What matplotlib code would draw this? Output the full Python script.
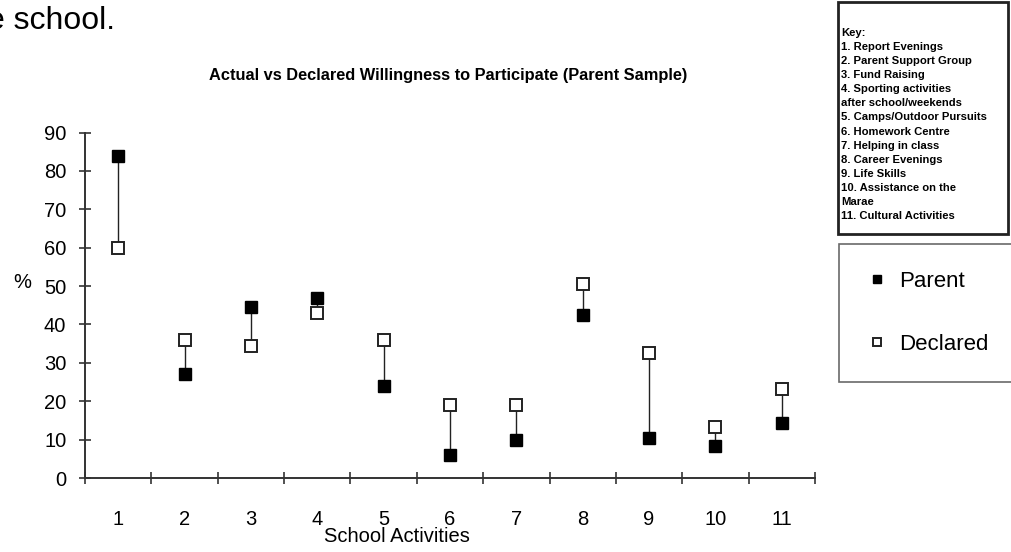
import matplotlib
matplotlib.use('Agg')
import matplotlib.pyplot as plt
from matplotlib.patches import Rectangle

plt.rcParams['font.family'] = ['Liberation Sans', 'DejaVu Sans']

activities = [1, 2, 3, 4, 5, 6, 7, 8, 9, 10, 11]
parent = [84, 27, 44.5, 47, 24, 6, 10, 42.5, 10.5, 8.3, 14.3]
declared = [60, 36, 34.5, 43, 36, 19, 19, 50.5, 32.5, 13.3, 23.2]
key_lines = [
    'Key:',
    '1. Report Evenings',
    '2. Parent Support Group',
    '3. Fund Raising',
    '4. Sporting activities',
    'after school/weekends',
    '5. Camps/Outdoor Pursuits',
    '6. Homework Centre',
    '7. Helping in class',
    '8. Career Evenings',
    '9. Life Skills',
    '10. Assistance on the',
    'Marae',
    '11. Cultural Activities',
]

W, H = 1011, 552
fig = plt.figure(figsize=(W / 100, H / 100), dpi=100)
ax = fig.add_axes([85 / W, 1 - 478 / H, 730 / W, (478 - 132.5) / H])

# connectors between actual and declared
ax.vlines(activities, parent, declared, color='#222222', lw=1.0, zorder=1)
hp, = ax.plot(activities, parent, 's', ms=8.5, mfc='black', mec='black',
              ls='none', zorder=3, label='Parent')
hd, = ax.plot(activities, declared, 's', ms=8.5, mfc='white', mec='#222222',
              mew=1.4, ls='none', zorder=3, label='Declared')

ax.set_xlim(0.5, 11.5)
ax.set_ylim(0, 90)
ax.set_yticks(range(0, 91, 10))
ax.set_xticks([i + 0.5 for i in range(0, 12)])
ax.set_xticklabels([])
ax.set_xticks(activities, minor=True)
ax.set_xticklabels([str(a) for a in activities], minor=True)
ax.tick_params(axis='x', which='major', direction='inout', length=9, width=1.2,
               color='#333333')
ax.tick_params(axis='x', which='minor', length=0, pad=23, labelsize=14.5)
ax.tick_params(axis='y', direction='inout', length=9, width=1.2,
               color='#333333', pad=9, labelsize=14.5)
for s in ['top', 'right']:
    ax.spines[s].set_visible(False)
for s in ['left', 'bottom']:
    ax.spines[s].set_linewidth(1.4)
    ax.spines[s].set_color('#333333')

ax.set_xlabel('School Activities', fontsize=14.5)
ax.xaxis.set_label_coords(0.427, -0.17)
ax.xaxis.label.set_va('center')
ax.set_ylabel('%', fontsize=14.5, rotation=0)
ax.yaxis.set_label_coords(-0.086, 0.566)
ax.yaxis.label.set_va('center')

fig.text(448 / W, 1 - 76 / H,
         'Actual vs Declared Willingness to Participate (Parent Sample)',
         ha='center', va='center', fontsize=11.8, fontweight='bold')
fig.text(115 / W, 1 - 21 / H, 'e school.', ha='right', va='center',
         fontsize=23)

# key box
fig.patches.append(Rectangle((838 / W, 1 - 234 / H), 170 / W, 232 / H,
                             transform=fig.transFigure, fill=False,
                             lw=2, ec='#222222'))
fig.text(841 / W, 1 - 28 / H, '\n'.join(key_lines), ha='left', va='top',
         fontsize=8.1, fontweight='bold', linespacing=1.51)

# legend
leg = fig.legend(handles=[hp, hd], loc='upper left',
                 bbox_to_anchor=(839 / W, 1 - 244 / H), fontsize=16,
                 frameon=True, fancybox=False, edgecolor='#444444',
                 labelspacing=1.9, borderpad=1.2, handlelength=1.0,
                 handletextpad=0.5, borderaxespad=0, markerscale=0.75)
leg.get_frame().set_linewidth(1.2)

fig.savefig('out.png', dpi=100)
